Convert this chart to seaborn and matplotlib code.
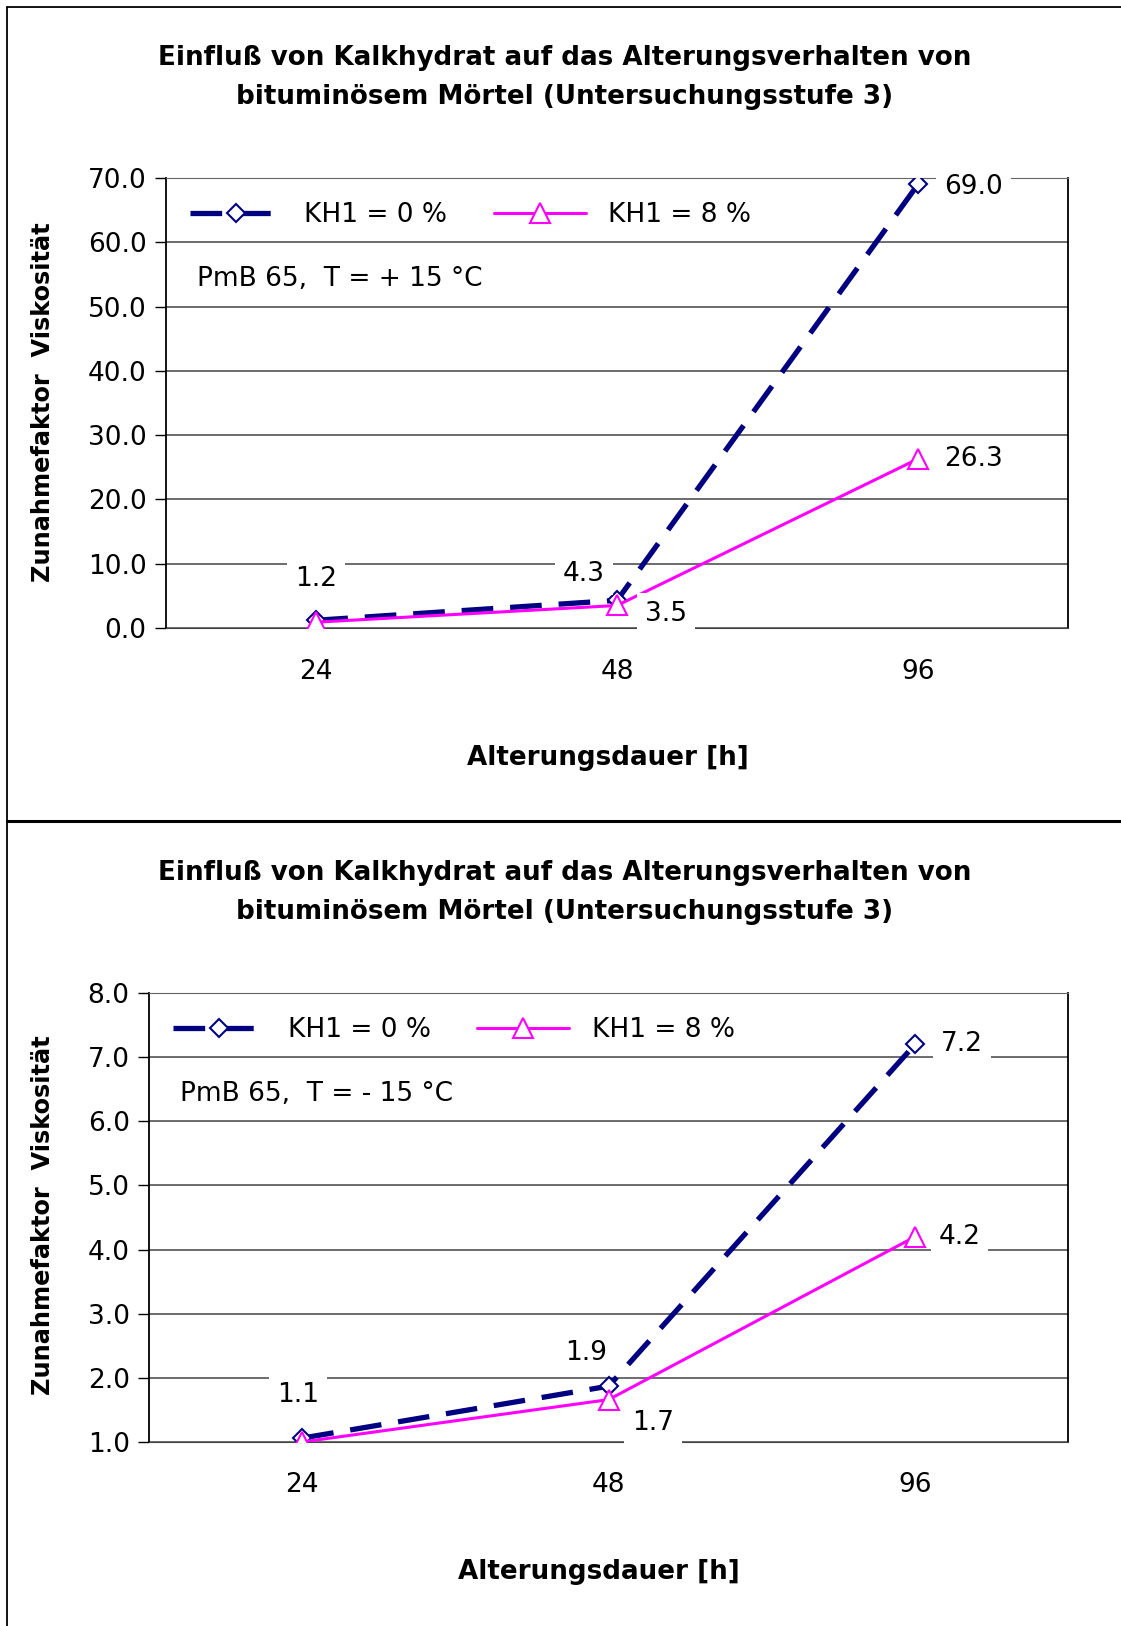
import numpy as np
import pandas as pd
import matplotlib
matplotlib.use("Agg")
import matplotlib.pyplot as plt
from matplotlib.lines import Line2D
import seaborn as sns

# data
hours = ["24", "48", "96"]
kh0_warm = [1.2, 4.3, 69.0]
kh8_warm = [0.9, 3.5, 26.3]
kh0_cold = [1.06, 1.87, 7.2]
kh8_cold = [1.0, 1.66, 4.2]
series_names = ["KH1 = 0 %", "KH1 = 8 %"]
title = "Einfluß von Kalkhydrat auf das Alterungsverhalten von\nbituminösem Mörtel (Untersuchungsstufe 3)"
xlabel = "Alterungsdauer [h]"
ylabel = "Zunahmefaktor  Viskosität"
note_warm = "PmB 65,  T = + 15 °C"
note_cold = "PmB 65,  T = - 15 °C"

sns.set_style("white")
plt.rcParams['font.family'] = ['DejaVu Sans']
plt.rcParams['text.color'] = 'black'
plt.rcParams['xtick.color'] = 'black'
plt.rcParams['ytick.color'] = 'black'
plt.rcParams['axes.labelcolor'] = 'black'

NAVY = "#000080"
MAGENTA = "#FF00FF"
GRID = "#444444"
FS = 19

fig = plt.figure(figsize=(11.21, 16.26), dpi=100)
ax1 = fig.add_axes([0.148, 0.6138, 0.805, 0.2767])
ax2 = fig.add_axes([0.133, 0.1132, 0.820, 0.2761])


def draw(ax, y0, y1, yticks, note, labels):
    df = pd.DataFrame({"h": hours * 2,
                       "v": y0 + y1,
                       "s": [series_names[0]] * 3 + [series_names[1]] * 3})
    sns.lineplot(data=df[df.s == series_names[0]], x="h", y="v", ax=ax, color=NAVY,
                 lw=3.8, linestyle=(0, (6, 3.2)), marker="D", ms=9, mfc="white",
                 mec=NAVY, mew=1.5, label=series_names[0], zorder=4)
    sns.lineplot(data=df[df.s == series_names[1]], x="h", y="v", ax=ax, color=MAGENTA,
                 lw=2.2, marker="^", ms=14, mfc="white", mec=MAGENTA, mew=1.5,
                 label=series_names[1], zorder=5)
    ax.set_xlim(-0.5, 2.5)
    ax.set_ylim(yticks[0], yticks[-1])
    ax.set_yticks(yticks)
    ax.set_yticklabels([f"{t:.1f}" for t in yticks], fontsize=FS)
    ax.set_xticks(range(3))
    ax.set_xticklabels(hours, fontsize=FS)
    ax.set_xticks([-0.5, 0.5, 1.5, 2.5], minor=True)
    ax.tick_params(axis="x", which="major", length=0, pad=22)
    ax.tick_params(axis="x", which="minor", length=8, width=1, color=GRID, direction="out")
    ax.tick_params(axis="y", length=8, width=1, color="black", direction="out", left=True, pad=6)
    ax.grid(axis="y", color=GRID, lw=1.1)
    ax.set_axisbelow(True)
    for side in ["left", "right"]:
        ax.spines[side].set_color("black")
        ax.spines[side].set_linewidth(1.3)
    ax.spines["top"].set_color("#666666")
    ax.spines["bottom"].set_color(GRID)
    ax.set_xlabel("")
    ax.set_ylabel("")
    ax.text(0.034, 0.775, note, transform=ax.transAxes, fontsize=FS, va="center", ha="left")
    ax.legend(loc="center left", bbox_to_anchor=(0.0, 0.918), ncol=2, frameon=False,
              fontsize=FS, handlelength=3.5, columnspacing=1.75, handletextpad=0.85,
              labelcolor="black")
    for (xi, v, dx, dy) in labels:
        ax.annotate(f"{v:.1f}", (xi, v), xytext=(dx, dy), textcoords="offset points",
                    ha="center", va="center", fontsize=FS, zorder=6,
                    bbox=dict(boxstyle="square,pad=0.3", fc="white", ec="none"))


draw(ax1, kh0_warm, kh8_warm, np.arange(0, 71, 10.0), note_warm,
     [(0, kh0_warm[0], 0, 30), (1, kh0_warm[1], -24, 19), (1, kh8_warm[1], 35, -6),
      (2, kh0_warm[2], 40, -2), (2, kh8_warm[2], 40, 0)])
draw(ax2, kh0_cold, kh8_cold, np.arange(1, 8.1, 1.0), note_cold,
     [(0, kh0_cold[0], -3, 31), (1, kh0_cold[1], -16, 24), (1, kh8_cold[1], 32, -17),
      (2, kh0_cold[2], 34, 0), (2, kh8_cold[2], 32, 0)])

for yc in [0.9526, 0.4514]:
    fig.text(0.504, yc, title, ha="center", va="center", fontsize=18.8, fontweight="bold",
             linespacing=1.65)
for (xc, yc) in [(0.542, 0.534), (0.534, 0.0332)]:
    fig.text(xc, yc, xlabel, ha="center", va="center", fontsize=18.8, fontweight="bold")
for yc in [0.7528, 0.2528]:
    fig.text(0.038, yc, ylabel, ha="center", va="center", fontsize=17.3, fontweight="bold",
             rotation=90)

# panel frame
fig.add_artist(Line2D([7 / 1121, 7 / 1121], [0, 1 - 7 / 1626], color="black", lw=1.3))
fig.add_artist(Line2D([7 / 1121, 1], [1 - 7 / 1626, 1 - 7 / 1626], color="black", lw=1.3))
fig.add_artist(Line2D([7 / 1121, 1], [1 - 821 / 1626, 1 - 821 / 1626], color="black", lw=2.2))

fig.savefig("out.png", dpi=100)
